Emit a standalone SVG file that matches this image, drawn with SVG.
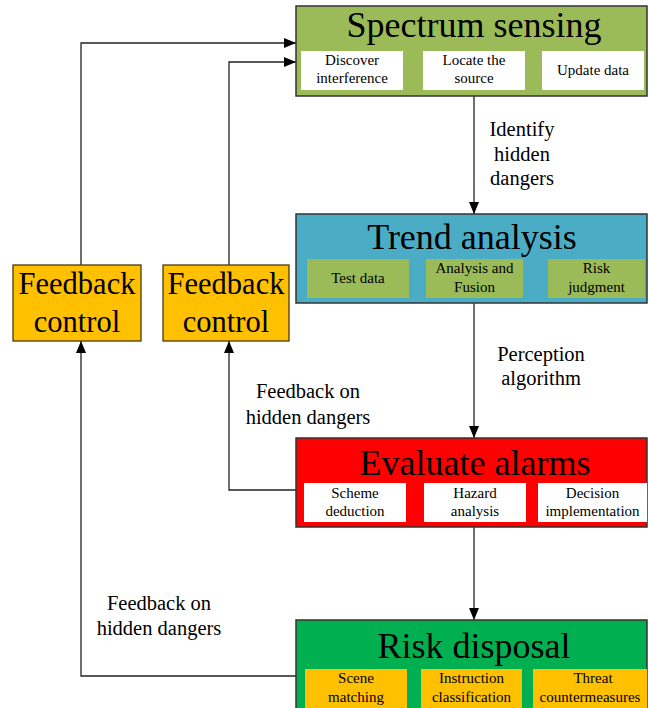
<svg xmlns="http://www.w3.org/2000/svg" width="648" height="708" viewBox="0 0 648 708" font-family="'Liberation Serif', Tinos, 'Times New Roman', 'DejaVu Serif', serif">
<defs>
<marker id="ah" markerWidth="12" markerHeight="12" viewBox="0 0 12 12" refX="12" refY="6" orient="auto" markerUnits="userSpaceOnUse">
<path d="M0,1 L12,6 L0,11 Z" fill="#000"/>
</marker>
<style>
text{font-family:'Liberation Serif', Tinos, 'Times New Roman', 'DejaVu Serif', serif;fill:#000;text-anchor:middle}
.main{stroke:#333;stroke-width:1.5}
.sub{stroke:none}
.title{font-size:36px}
.st{font-size:15px}
.lbl{font-size:20.5px}
.fb{font-size:30.5px}
.conn{fill:none;stroke:#222;stroke-width:1.3}
</style>
</defs>
<rect width="648" height="708" fill="#fff"/>

<g id="connectors">
<path class="conn" d="M474,96 V214" marker-end="url(#ah)"/>
<path class="conn" d="M474,303 V438" marker-end="url(#ah)"/>
<path class="conn" d="M474,527 V620" marker-end="url(#ah)"/>
<path class="conn" d="M81,265 V43 H296" marker-end="url(#ah)"/>
<path class="conn" d="M229,265 V62 H296" marker-end="url(#ah)"/>
<path class="conn" d="M296,490 H229 V341" marker-end="url(#ah)"/>
<path class="conn" d="M296,676 H81 V341" marker-end="url(#ah)"/>
<text class="lbl" x="522" y="136">Identify</text>
<text class="lbl" x="522" y="161">hidden</text>
<text class="lbl" x="522" y="185">dangers</text>
<text class="lbl" x="541" y="361">Perception</text>
<text class="lbl" x="541" y="385">algorithm</text>
<text class="lbl" x="308" y="398">Feedback on</text>
<text class="lbl" x="308" y="424">hidden dangers</text>
<text class="lbl" x="159" y="610">Feedback on</text>
<text class="lbl" x="159" y="635">hidden dangers</text>
</g>

<g id="spectrum-sensing">
<rect class="main" x="296" y="6" width="351" height="90" fill="#9BBB59"/>
<text class="title" x="474" y="37">Spectrum sensing</text>
<rect class="sub" x="301" y="51" width="102" height="39" fill="#fff"/>
<rect class="sub" x="423" y="51" width="102" height="39" fill="#fff"/>
<rect class="sub" x="542" y="51" width="102" height="39" fill="#fff"/>
<text class="st" x="352" y="65">Discover</text>
<text class="st" x="352" y="83">interference</text>
<text class="st" x="474" y="65">Locate the</text>
<text class="st" x="474" y="83">source</text>
<text class="st" x="593" y="75">Update data</text>
</g>

<g id="trend-analysis">
<rect class="main" x="296" y="214" width="351" height="89" fill="#4BACC6"/>
<text class="title" x="472" y="249">Trend analysis</text>
<rect class="sub" x="307" y="259" width="102" height="39" fill="#9BBB59"/>
<rect class="sub" x="426" y="259" width="97" height="39" fill="#9BBB59"/>
<rect class="sub" x="548" y="259" width="97" height="39" fill="#9BBB59"/>
<text class="st" x="358" y="283">Test data</text>
<text class="st" x="474.5" y="273">Analysis and</text>
<text class="st" x="474.5" y="292">Fusion</text>
<text class="st" x="596.5" y="273">Risk</text>
<text class="st" x="596.5" y="292">judgment</text>
</g>

<g id="evaluate-alarms">
<rect class="main" x="296" y="438" width="351" height="89" fill="#FF0000"/>
<text class="title" x="475" y="475">Evaluate alarms</text>
<rect class="sub" x="304" y="483" width="102" height="39" fill="#fff"/>
<rect class="sub" x="424" y="483" width="102" height="39" fill="#fff"/>
<rect class="sub" x="538" y="483" width="109" height="39" fill="#fff"/>
<text class="st" x="355" y="498">Scheme</text>
<text class="st" x="355" y="516">deduction</text>
<text class="st" x="475" y="498">Hazard</text>
<text class="st" x="475" y="516">analysis</text>
<text class="st" x="592.5" y="498">Decision</text>
<text class="st" x="592.5" y="516">implementation</text>
</g>

<g id="risk-disposal">
<rect class="main" x="296" y="620" width="351" height="100" fill="#00B050"/>
<text class="title" x="474" y="658">Risk disposal</text>
<rect class="sub" x="305" y="669" width="102" height="45" fill="#FFC000"/>
<rect class="sub" x="421" y="669" width="101" height="45" fill="#FFC000"/>
<rect class="sub" x="533" y="669" width="114" height="45" fill="#FFC000"/>
<text class="st" x="356" y="683">Scene</text>
<text class="st" x="356" y="702">matching</text>
<text class="st" x="471.5" y="683">Instruction</text>
<text class="st" x="471.5" y="702">classification</text>
<text class="st" x="593" y="683">Threat</text>
<text class="st" x="590" y="702">countermeasures</text>
</g>

<g id="feedback-control-1">
<rect x="13" y="265" width="128" height="76" fill="#FFC000" stroke="#4a3a10" stroke-width="1.3"/>
<text class="fb" x="77" y="294">Feedback</text>
<text class="fb" x="77" y="332">control</text>
</g>

<g id="feedback-control-2">
<rect x="163" y="265" width="126" height="76" fill="#FFC000" stroke="#4a3a10" stroke-width="1.3"/>
<text class="fb" x="226" y="294">Feedback</text>
<text class="fb" x="226" y="332">control</text>
</g>
</svg>
